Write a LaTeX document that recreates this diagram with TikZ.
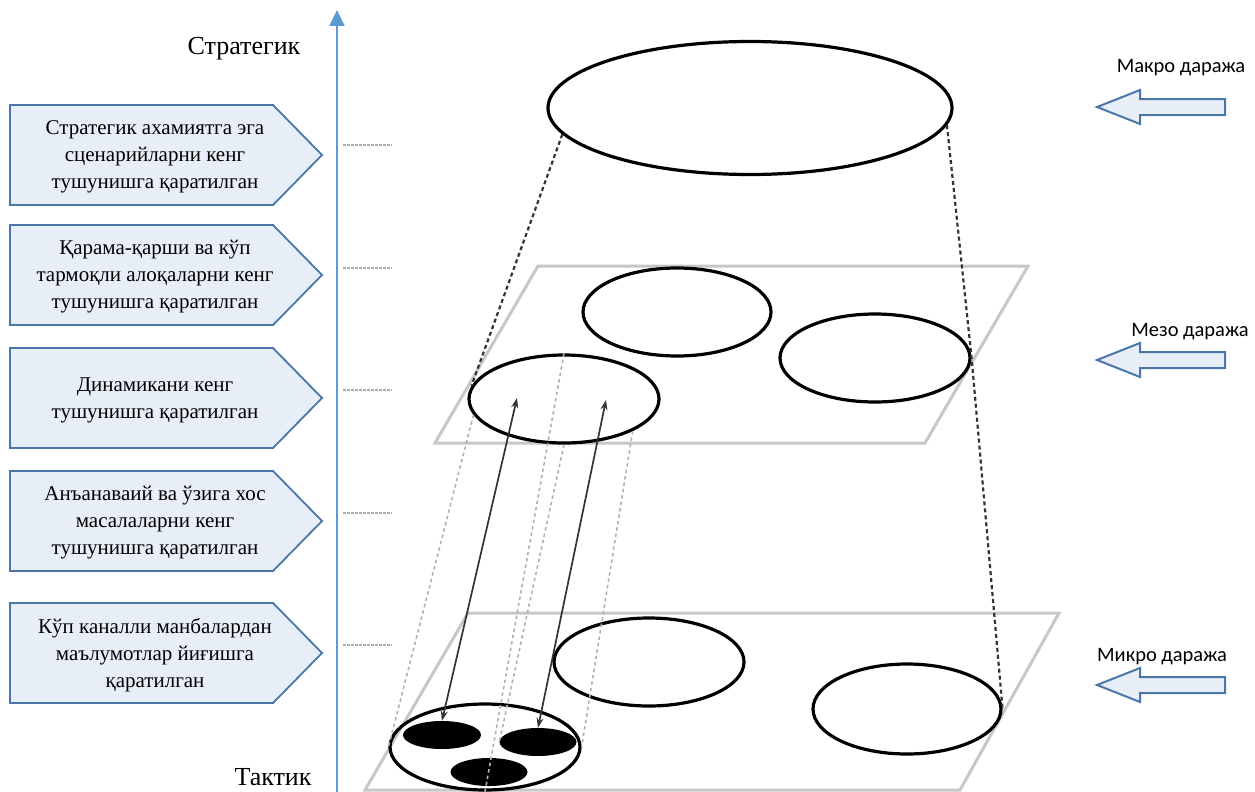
\documentclass[tikz,border=0pt]{standalone}
\usepackage{fontspec}
\setmainfont{Liberation Serif}
\newfontfamily\calib{Carlito}
\usetikzlibrary{shapes.geometric,arrows.meta}
\definecolor{boxf}{HTML}{E8EEF7}
\definecolor{boxb}{HTML}{4A76A8}
\definecolor{axblue}{HTML}{5B9BD5}
\tikzset{
  lbox/.style={draw=boxb, fill=boxf, line width=1.8pt, line join=miter},
  ltext/.style={align=center, font=\fontsize{21}{27}\selectfont, inner sep=0pt},
  ttext/.style={font=\fontsize{26}{30}\selectfont, inner sep=0pt},
  rtext/.style={font=\calib\fontsize{20.5}{24}\selectfont, inner sep=0pt},
  ell/.style={ellipse, draw=black, line width=3.2pt, inner sep=0pt},
  blk/.style={ellipse, fill=black, inner sep=0pt},
  plane/.style={draw=black!22, line width=3pt, line join=miter},
  dots/.style={draw=black!32, line width=2.2pt, dash pattern=on 2.5pt off 1.5pt},
  ddash/.style={draw=black!80, line width=2.2pt, dash pattern=on 4pt off 3pt},
  ldash/.style={draw=black!30, line width=1.6pt, dash pattern=on 3.5pt off 3pt},
  darr/.style={draw=black!80, line width=1.7pt, {Stealth[length=10pt,width=7pt]}-{Stealth[length=10pt,width=7pt]}},
  barrow/.style={draw=boxb, fill=boxf, line width=2pt, line join=miter},
}
\newcommand\mkleftbox[3]{%
  \draw[lbox] (10,#2) -- (273,#2) -- (322,#2+50) -- (273,#2+100) -- (10,#2+100) -- cycle;
  \node[ltext] (#1) at (155,#2+52) {#3};
}
\newcommand\mkblockarrow[1]{%
  \draw[barrow] (1097,#1) -- (1140,#1-17) -- (1140,#1-8) -- (1225,#1-8) -- (1225,#1+8) -- (1140,#1+8) -- (1140,#1+17) -- cycle;
}
\begin{document}
\begin{tikzpicture}[x=1pt,y=-1pt]
\useasboundingbox (0,0) rectangle (1255,792);
% axis
\coordinate (axb) at (337,792);
\coordinate (axt) at (337,10);
\draw[axblue, line width=2.2pt, -{Triangle[length=16pt,width=15pt]}] (axb) -- (axt);
\node[ttext] (strat) at (244,49) {Стратегик};
\node[ttext] (takt) at (273,777) {Тактик};
% left boxes
\mkleftbox{b1}{105}{Стратегик ахамиятга эга\\сценарийларни кенг\\тушунишга қаратилган}
\mkleftbox{b2}{225}{Қарама-қарши ва кўп\\тармоқли алоқаларни кенг\\тушунишга қаратилган}
\mkleftbox{b3}{348}{Динамикани кенг\\тушунишга қаратилган}
\mkleftbox{b4}{471}{Анъанаваий ва ўзига хос\\масалаларни кенг\\тушунишга қаратилган}
\mkleftbox{b5}{603}{Кўп каналли манбалардан\\маълумотлар йиғишга\\қаратилган}
% short dotted marks
\foreach \yy in {145,268,390,513,645}{\draw[dots] (343,\yy) -- (392,\yy);}
% planes
\draw[plane] (538,266) -- (1028,266) -- (925,443) -- (435,443) -- cycle;
\draw[plane] (468,613) -- (1059,613) -- (960,790) -- (365,790) -- cycle;
% ellipses (nodes)
\node[ell, minimum width=404pt, minimum height=133pt] (T) at (750,108) {};
\node[ell, minimum width=188pt, minimum height=88pt] (A) at (677,312) {};
\node[ell, minimum width=190pt, minimum height=88pt] (B) at (875,358) {};
\node[ell, minimum width=190pt, minimum height=88pt] (C) at (564,399) {};
\node[ell, minimum width=190pt, minimum height=88pt] (D) at (649,662) {};
\node[ell, minimum width=188pt, minimum height=90pt] (E) at (907,709) {};
\node[ell, minimum width=190pt, minimum height=86pt] (F) at (485,747) {};
\node[blk, minimum width=78pt, minimum height=28pt] (K1) at (442,735) {};
\node[blk, minimum width=77pt, minimum height=28pt] (K2) at (538,742) {};
\node[blk, minimum width=77pt, minimum height=28pt] (K3) at (489,772) {};
% dashed projection lines
\draw[ddash] (T.188) -- (C.172);
\draw[ddash] (T.-5) -- (B.east) -- (E.east);
\draw[ldash] (C.190) -- (F.west);
\draw[ldash] (C.north) -- (F.south);
\draw[ldash] (C.south) -- (K2.west);
\draw[ldash] (C.-25) -- (F.east);
% double arrows
\coordinate (c1) at (517,398);
\coordinate (c2) at (606,400);
\draw[darr] (K1.north) -- (c1);
\draw[darr] (K2.north) -- (c2);
% right block arrows and labels
\mkblockarrow{107}
\mkblockarrow{360}
\mkblockarrow{685}
\node[rtext] (macro) at (1181,68) {Макро даража};
\node[rtext] (meso) at (1190,332) {Мезо даража};
\node[rtext] (micro) at (1162,657) {Микро даража};
\end{tikzpicture}
\end{document}
